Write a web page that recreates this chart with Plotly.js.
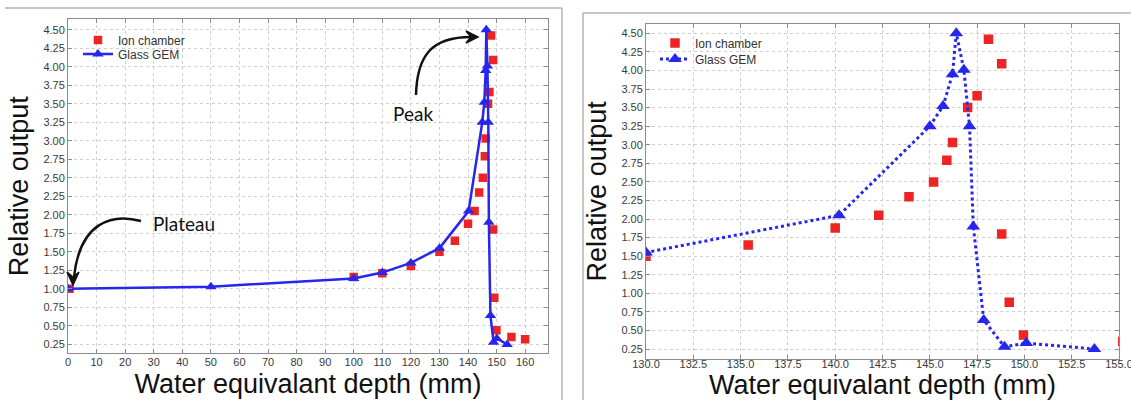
<!DOCTYPE html>
<html>
<head>
<meta charset="utf-8">
<script src="https://cdn.plot.ly/plotly-3.0.1.min.js"></script>
<style>html,body{margin:0;padding:0;background:#fff;}#chart{width:1131px;height:400px;}</style>
</head>
<body>
<div id="chart"></div>
<script>
// ---- data ----
const ionX = [0.5, 100, 110, 120, 130, 135.4, 140.0, 142.3, 143.9, 145.2, 145.9, 146.2, 147.0, 147.5, 148.1, 148.8, 148.8, 149.2, 149.95, 155.2, 160.0];
const ionY = [1.00, 1.16, 1.21, 1.31, 1.50, 1.65, 1.88, 2.05, 2.30, 2.50, 2.79, 3.03, 3.50, 3.66, 4.42, 4.09, 1.80, 0.88, 0.44, 0.35, 0.32];
const gemX = [0, 50, 100, 110, 120, 130, 140.2, 145.0, 145.7, 146.2, 146.4, 146.8, 147.1, 147.3, 147.85, 148.95, 150.1, 153.7];
const gemY = [1.00, 1.03, 1.14, 1.22, 1.35, 1.55, 2.05, 3.25, 3.52, 3.95, 4.50, 4.01, 3.25, 1.90, 0.64, 0.28, 0.33, 0.25];
const seriesNames = ['Ion chamber', 'Glass GEM'];
const xTitle = 'Water equivalant depth (mm)';
const yTitle = 'Relative output';
const yTicks = [0.25, 0.50, 0.75, 1.00, 1.25, 1.50, 1.75, 2.00, 2.25, 2.50, 2.75, 3.00, 3.25, 3.50, 3.75, 4.00, 4.25, 4.50];
const xTicksLeft = [0, 10, 20, 30, 40, 50, 60, 70, 80, 90, 100, 110, 120, 130, 140, 150, 160];
const xTicksRight = [130.0, 132.5, 135.0, 137.5, 140.0, 142.5, 145.0, 147.5, 150.0, 152.5, 155.0];
const annTexts = ['Plateau', 'Peak'];

// ---- layout helpers (pixel -> paper) ----
const W = 1131, H = 400;
const X = p => p / W, Y = p => 1 - p / H;
const RED = '#ee2424', BLUE = '#2626ee';
const FONT = 'Liberation Sans, Arial, sans-serif';

function pth(cmds) {
  return cmds.replace(/(-?\d+(?:\.\d+)?),(-?\d+(?:\.\d+)?)/g, (m, a, b) => X(+a).toFixed(5) + ',' + Y(+b).toFixed(5));
}

const traces = [
  {x: ionX, y: ionY, name: seriesNames[0], type: 'scatter', mode: 'markers', xaxis: 'x', yaxis: 'y',
   marker: {symbol: 'square', size: 8.5, color: RED}, legend: 'legend'},
  {x: gemX, y: gemY, name: seriesNames[1], type: 'scatter', mode: 'lines+markers', xaxis: 'x', yaxis: 'y',
   line: {color: BLUE, width: 2.5}, marker: {symbol: 'triangle-up', size: 10, color: BLUE}, legend: 'legend2'},
  {x: ionX, y: ionY, name: seriesNames[0], type: 'scatter', mode: 'markers', xaxis: 'x2', yaxis: 'y2',
   marker: {symbol: 'square', size: 9.5, color: RED}, legend: 'legend3'},
  {x: gemX, y: gemY, name: seriesNames[1], type: 'scatter', mode: 'lines+markers', xaxis: 'x2', yaxis: 'y2',
   line: {color: BLUE, width: 3, dash: 'dot'}, marker: {symbol: 'triangle-up', size: 12, color: BLUE}, legend: 'legend4'}
];

const axCommon = {
  showline: true, linecolor: '#8c8c8c', linewidth: 1, mirror: 'ticks',
  ticks: 'inside', ticklen: 4, tickcolor: '#8c8c8c', tickwidth: 1,
  showgrid: true, gridcolor: '#cfcfcf', griddash: 'dot', gridwidth: 1,
  zeroline: false, automargin: false, ticklabeloverflow: 'allow',
  tickfont: {family: FONT, size: 11, color: '#3a3a3a'}
};
const titleFont = {family: FONT, size: 27, color: '#111'};

const legendBase = {bgcolor: 'rgba(0,0,0,0)', borderwidth: 0, font: {family: FONT, size: 12, color: '#333'},
  xanchor: 'left', yanchor: 'middle', itemclick: false};

const layout = {
  width: W, height: H, margin: {l: 0, r: 0, t: 0, b: 0}, paper_bgcolor: '#fff', plot_bgcolor: '#fff',
  showlegend: true,
  xaxis: Object.assign({}, axCommon, {domain: [X(68), X(548)], range: [0, 168], tickvals: xTicksLeft, ticktext: xTicksLeft.map(String),
    anchor: 'y', ticklabelstandoff: -2, title: {text: xTitle, font: titleFont, standoff: 7}}),
  yaxis: Object.assign({}, axCommon, {domain: [Y(353.3), Y(19.3)], range: [0.13, 4.64], tickvals: yTicks, ticktext: yTicks.map(v => v.toFixed(2)),
    anchor: 'x', title: {text: yTitle, font: titleFont, standoff: 6}}),
  xaxis2: Object.assign({}, axCommon, {domain: [X(646), X(1119)], range: [130, 155], tickvals: xTicksRight, ticktext: xTicksRight.map(v => v.toFixed(1)),
    anchor: 'y2', ticklabelstandoff: -5, title: {text: xTitle, font: titleFont, standoff: 7}}),
  yaxis2: Object.assign({}, axCommon, {domain: [Y(358.7), Y(24)], range: [0.12, 4.625], tickvals: yTicks, ticktext: yTicks.map(v => v.toFixed(2)),
    anchor: 'x2', title: {text: yTitle, font: titleFont, standoff: 6}}),
  legend: Object.assign({}, legendBase, {x: X(78), y: Y(40)}),
  legend2: Object.assign({}, legendBase, {x: X(78), y: Y(54)}),
  legend3: Object.assign({}, legendBase, {x: X(655), y: Y(43)}),
  legend4: Object.assign({}, legendBase, {x: X(655), y: Y(59)}),
  annotations: [
    {xref: 'paper', yref: 'paper', x: X(184), y: Y(223), text: annTexts[0], showarrow: false,
     font: {family: 'Lato, Open Sans, sans-serif', size: 19, color: '#111'}, xanchor: 'center', yanchor: 'middle'},
    {xref: 'paper', yref: 'paper', x: X(413), y: Y(114), text: annTexts[1], showarrow: false,
     font: {family: 'Lato, Open Sans, sans-serif', size: 19, color: '#111'}, xanchor: 'center', yanchor: 'middle'}
  ],
  shapes: [
    {type: 'line', xref: 'paper', yref: 'paper', x0: X(5), y0: Y(8), x1: X(562), y1: Y(8), line: {color: '#b4b4b4', width: 1.5}},
    {type: 'line', xref: 'paper', yref: 'paper', x0: X(562), y0: Y(8), x1: X(562), y1: Y(400), line: {color: '#b4b4b4', width: 1.5}},
    {type: 'line', xref: 'paper', yref: 'paper', x0: X(583), y0: Y(13), x1: X(1131), y1: Y(13), line: {color: '#b4b4b4', width: 1.5}},
    {type: 'line', xref: 'paper', yref: 'paper', x0: X(583), y0: Y(13), x1: X(583), y1: Y(400), line: {color: '#b4b4b4', width: 1.5}},
    {type: 'path', xref: 'paper', yref: 'paper', path: pth('M 141,221 C 112,213 80,222 74,277'), line: {color: '#111', width: 2.5}},
    {type: 'path', xref: 'paper', yref: 'paper', path: pth('M 67,272 L 73,285 L 79,272 L 73,277 Z'), fillcolor: '#111', line: {color: '#111', width: 1.5}},
    {type: 'path', xref: 'paper', yref: 'paper', path: pth('M 416,95 C 417,55 432,37 471,37'), line: {color: '#111', width: 2.5}},
    {type: 'path', xref: 'paper', yref: 'paper', path: pth('M 466,31 L 478,37 L 466,43 L 471,37 Z'), fillcolor: '#111', line: {color: '#111', width: 1.5}}
  ]
};

Plotly.newPlot('chart', traces, layout, {displayModeBar: false, staticPlot: true});
</script>
</body>
</html>
